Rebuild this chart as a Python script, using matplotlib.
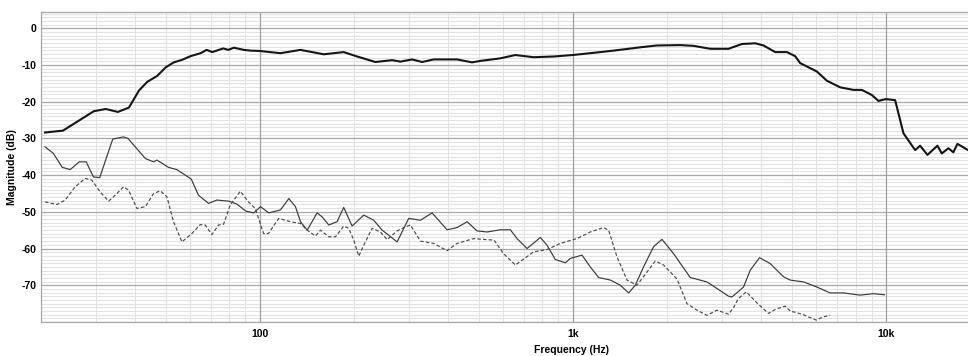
import numpy as np
import matplotlib
matplotlib.use("Agg")
import matplotlib.pyplot as plt
from matplotlib.ticker import FixedLocator, NullFormatter, LogLocator

# ---- data ----
main_f = [20.6, 23.5, 29.5, 32.2, 35.2, 38.2, 41.1, 43.7, 47.0, 50.0, 53.1, 56.5, 60.1, 64.7, 67.6,
          70.5, 76.4, 79.3, 82.6, 88.9, 93.4, 100, 116.4, 134.9, 160.1, 185.4, 204.6, 234.1, 264.7,
          281.4, 306.6, 330.0, 359.3, 426.6, 476.7, 507, 587, 655, 750, 868, 1000, 1195, 1349, 1642,
          1857, 2203, 2430, 2747, 3145, 3469, 3825, 4066, 4431, 4830, 5133, 5324, 6022, 6481, 7145,
          7880, 8382, 9023, 9471, 10000, 10708, 11381, 12406, 12867, 13579, 14610, 15093, 15845,
          16436, 16927, 18315]
main_db = [-28.4, -27.9, -22.6, -22.0, -22.8, -21.6, -17.0, -14.6, -13.0, -10.7, -9.3, -8.6, -7.6, -6.8, -5.9,
           -6.5, -5.5, -5.9, -5.3, -5.9, -6.1, -6.2, -6.8, -5.9, -7.1, -6.5, -7.7, -9.2, -8.7,
           -9.1, -8.5, -9.2, -8.5, -8.5, -9.3, -8.9, -8.2, -7.3, -7.9, -7.7, -7.3, -6.6, -6.1, -5.2,
           -4.7, -4.6, -4.8, -5.6, -5.6, -4.3, -4.1, -4.7, -6.5, -6.5, -7.6, -9.5, -11.8, -14.3, -16.1,
           -16.8, -16.8, -18.2, -19.8, -19.3, -19.6, -28.6, -33.2, -32.0, -34.5, -32.0, -34.1, -32.7,
           -33.8, -31.5, -33.2]

thin_f = [20.6, 21.9, 23.4, 24.8, 26.5, 27.9, 29.4, 30.8, 33.9, 36.7, 37.9, 40.0, 43.1, 45.8, 46.9,
          51.1, 54.3, 57.8, 60.4, 63.7, 68.6, 72.9, 79.5, 84.5, 90.2, 95.7, 100.5, 106.8, 116.4,
          123.8, 130.0, 134.9, 141.7, 152.5, 158.2, 166.1, 176.6, 185.4, 197.2, 214.8, 231.2, 245.9,
          258.2, 274.6, 299.0, 326.0, 355.1, 396.6, 426.9, 459.6, 494.4, 532.3, 586.9, 631.6, 663.5,
          714.1, 787.5, 827.2, 879.4, 946.5, 981.8, 1070, 1137, 1209, 1318, 1418, 1508, 1583, 1683,
          1811, 1927, 2098, 2372, 2682, 2887, 3145, 3224, 3510, 3688, 3949, 4272, 4711, 4949, 5458,
          6022, 6641, 7322, 8279, 9129, 9897]
thin_db = [-32.3, -34.1, -37.9, -38.5, -36.4, -36.4, -40.5, -40.7, -30.2, -29.6, -30.0, -32.3, -35.5, -36.4, -35.9,
           -37.9, -38.5, -40.0, -41.1, -45.5, -47.7, -46.8, -47.1, -47.9, -49.8, -50.3, -48.6, -50.3, -49.5,
           -46.4, -48.6, -52.7, -55.0, -50.3, -51.4, -53.6, -52.7, -48.8, -53.9, -50.9, -52.3, -55.0,
           -56.4, -58.2, -51.8, -52.3, -50.3, -54.9, -54.3, -52.7, -55.2, -55.5, -54.9, -54.9, -57.3,
           -60.0, -57.0, -59.1, -63.0, -63.9, -62.7, -61.8, -65.0, -67.9, -68.6, -70.0, -72.1, -70.0, -65.0,
           -59.5, -57.5, -61.4, -67.9, -69.1, -70.9, -73.0, -73.2, -70.5, -65.9, -62.5, -64.1, -67.7, -68.6, -69.1,
           -70.5, -72.1, -72.1, -72.7, -72.3, -72.6]

dash_f = [20.6, 22.5, 23.9, 25.7, 27.7, 29.1, 30.9, 32.9, 34.5, 36.7, 38.1, 40.5, 43.1, 45.8, 48.1,
          50.5, 53.0, 56.4, 60.7, 64.5, 66.9, 70.3, 73.8, 76.6, 80.4, 86.6, 92.0, 96.7, 102.8, 106.6,
          112.0, 115.0, 125.3, 134.9, 141.7, 150.6, 156.2, 166.1, 174.5, 185.4, 192.4, 199.6, 207.1,
          214.8, 228.5, 242.8, 255.2, 274.6, 291.8, 302.8, 326.0, 359.3, 396.6, 426.9, 482.4, 532.3,
          560, 601, 655.4, 688.3, 749.6, 827.2, 912.5, 1031, 1137, 1254, 1301, 1384, 1490, 1603, 1726,
          1834, 1950, 2151, 2315, 2493, 2682, 2887, 3145, 3262, 3383, 3581, 3873, 4220, 4431, 4770,
          4949, 5394, 5991, 6321, 6641]
dash_db = [-47.3, -48.0, -46.8, -43.2, -40.9, -41.4, -44.6, -47.1, -45.5, -43.2, -44.1, -49.1, -48.6, -45.0, -44.3,
           -45.9, -52.7, -58.2, -55.9, -53.5, -53.6, -56.2, -53.6, -53.4, -48.2, -44.4, -47.3, -49.1, -55.9, -55.9,
           -53.2, -51.8, -52.7, -53.2, -55.0, -56.6, -55.0, -56.8, -56.8, -53.9, -54.5, -57.7, -62.1,
           -59.1, -54.5, -55.5, -57.6, -55.2, -54.1, -53.6, -58.0, -58.6, -60.6, -58.6, -57.3, -57.6,
           -57.7, -61.4, -64.5, -63.2, -60.9, -60.3, -58.6, -57.3, -55.5, -54.3, -55.0, -62.3, -68.6, -70.0, -66.4,
           -63.4, -64.5, -68.3, -75.0, -76.8, -78.2, -76.8, -77.9, -76.1, -73.6, -71.8, -74.8, -77.7, -76.6, -75.7,
           -77.0, -77.9, -79.5, -78.6, -78.2]

ytick_vals = [0, -10, -20, -30, -40, -50, -60, -70]
xtick_vals = [100, 1000, 10000]
xtick_labels = ["100", "1k", "10k"]

# ---- figure ----
W, H = 968, 356
fig = plt.figure(figsize=(W / 100, H / 100), dpi=100)
left, right, top, bottom = 41, 968, 11.7, 322.3
ax = fig.add_axes([left / W, 1 - bottom / H, (right - left) / W, (bottom - top) / H])

ax.set_xscale("log")
ax.set_xlim(20, 18300)
ax.set_ylim(-80.1, 4.5)

FONT = ["Liberation Sans", "DejaVu Sans"]
FS = 7.5

ax.plot(thin_f, thin_db, color="#3a3a3a", lw=0.85, zorder=3)
ax.plot(dash_f, dash_db, color="#4a4a4a", lw=0.85, ls=(0, (3.0, 1.8)), zorder=3)
ax.plot(main_f, main_db, color="#151515", lw=1.5, zorder=4)

ax.xaxis.set_major_locator(FixedLocator(xtick_vals))
ax.set_xticklabels(xtick_labels, fontsize=FS, fontweight="bold", family=FONT)
ax.xaxis.set_minor_locator(LogLocator(base=10, subs=np.arange(2, 10)))
ax.xaxis.set_minor_formatter(NullFormatter())

ax.yaxis.set_major_locator(FixedLocator(ytick_vals))
ax.set_yticklabels([str(v) for v in ytick_vals], fontsize=FS, fontweight="bold", family=FONT)
ax.yaxis.set_minor_locator(FixedLocator([v for v in range(4, -81, -1) if v % 10 != 0]))

# minor grid via axis, major grid drawn on top of it
ax.grid(which="minor", color="#e3e3e3", lw=0.8, zorder=0)
ax.grid(which="major", visible=False)
for v in list(range(0, -81, -10)):
    ax.axhline(v, color="#a8a8a8", lw=0.9, zorder=1)
for v in xtick_vals:
    ax.axvline(v, color="#a0a0a0", lw=0.9, zorder=1)
ax.set_axisbelow(True)
ax.tick_params(which="both", length=0)
ax.tick_params(axis="x", pad=5)
ax.tick_params(axis="y", pad=3)

for s in ["left", "bottom", "top"]:
    ax.spines[s].set_color("#a8a8a8")
    ax.spines[s].set_linewidth(0.9)
ax.spines["right"].set_visible(False)

ax.set_xlabel("Frequency (Hz)", fontsize=FS, fontweight="bold", family=FONT)
ax.xaxis.set_label_coords((571 - left) / (right - left), -(350 - bottom) / (bottom - top))
ax.xaxis.label.set_va("center")
ax.set_ylabel("Magnitude (dB)", fontsize=FS, fontweight="bold", family=FONT)
ax.yaxis.set_label_coords(-(left - 12.5) / (right - left), 0.5)
ax.yaxis.label.set_va("center")

fig.savefig("out.png", dpi=100)
